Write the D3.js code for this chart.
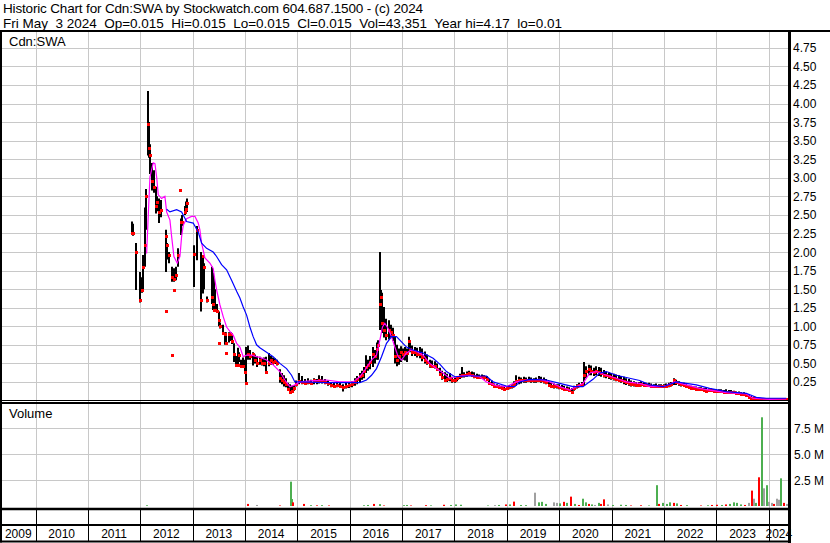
<!DOCTYPE html>
<html><head><meta charset="utf-8">
<script src="https://cdn.jsdelivr.net/npm/d3@7"></script>
<style>
body{margin:0;background:#fff}
svg{display:block}
text{font-family:"Liberation Sans",Arial,sans-serif;fill:#000}
</style>
</head><body>
<svg id="chart" width="830" height="543"></svg>
<script>
// ---------- text ----------
const titleLine1 = "Historic Chart for Cdn:SWA by Stockwatch.com 604.687.1500 - (c) 2024";
const titleLine2 = "Fri May  3 2024  Op=0.015  Hi=0.015  Lo=0.015  Cl=0.015  Vol=43,351  Year hi=4.17  lo=0.01";
const symbolLabel = "Cdn:SWA";
const volumeLabel = "Volume";

// ---------- axes ----------
const years = [2009,2010,2011,2012,2013,2014,2015,2016,2017,2018,2019,2020,2021,2022,2023,2024];
const priceTicks = [0.25,0.5,0.75,1,1.25,1.5,1.75,2,2.25,2.5,2.75,3,3.25,3.5,3.75,4,4.25,4.5,4.75];
const volTicks = [2.5e6,5e6,7.5e6];
const volTickLabels = ["2.5 M","5.0 M","7.5 M"];

// ---------- price bars (time in decimal years) ----------
const priceT = [2011.832,2011.851,2011.899,2011.975,2012.013,2012.042,2012.071,2012.099,2012.137,2012.156,2012.176,2012.214,2012.242,2012.281,2012.309,2012.338,2012.376,2012.471,2012.480,2012.500,2012.538,2012.590,2012.595,2012.618,2012.634,2012.672,2012.700,2012.739,2012.758,2012.786,2012.834,2012.863,2012.882,
2013.006,2013.072,2013.149,2013.177,2013.206,2013.254,2013.359,2013.378,2013.397,2013.416,2013.445,2013.477,2013.492,2013.511,2013.559,2013.597,2013.616,2013.626,2013.674,2013.712,2013.740,2013.779,2013.807,2013.845,2013.874,2013.912,2013.950,2013.989,
2014.008,2014.046,2014.084,2014.132,2014.170,2014.218,2014.265,2014.303,2014.342,2014.389,2014.437,2014.485,2014.523,2014.561,2014.599,2014.647,2014.685,2014.723,2014.761,2014.800,2014.838,2014.876,2014.914,2014.962,
2015.019,2015.067,2015.124,2015.181,2015.239,2015.296,2015.353,2015.401,2015.448,2015.506,2015.563,2015.620,2015.677,2015.735,2015.792,2015.849,2015.906,2015.964,
2016.021,2016.078,2016.126,2016.174,2016.221,2016.260,2016.298,2016.336,2016.374,2016.422,2016.460,2016.498,2016.527,2016.555,2016.584,2016.603,2016.641,2016.679,2016.727,2016.765,2016.803,2016.842,2016.880,2016.918,2016.956,2016.994,
2017.032,2017.070,2017.109,2017.137,2017.176,2017.223,2017.271,2017.319,2017.366,2017.414,2017.462,2017.510,2017.557,2017.605,2017.653,2017.700,2017.748,2017.796,2017.844,2017.891,2017.939,2017.987,
2018.034,2018.082,2018.120,2018.168,2018.216,2018.263,2018.311,2018.359,2018.406,2018.454,2018.502,2018.550,2018.597,2018.645,2018.693,2018.740,2018.788,2018.836,2018.884,2018.931,2018.979,
2019.027,2019.074,2019.122,2019.160,2019.208,2019.256,2019.303,2019.351,2019.399,2019.447,2019.494,2019.542,2019.590,2019.637,2019.685,2019.733,2019.781,2019.828,2019.876,2019.933,2019.981,
2020.028,2020.076,2020.124,2020.172,2020.219,2020.267,2020.315,2020.363,2020.410,2020.458,2020.496,2020.544,2020.592,2020.639,2020.687,2020.735,2020.782,2020.830,2020.878,2020.926,2020.973,
2021.021,2021.069,2021.116,2021.164,2021.212,2021.260,2021.307,2021.355,2021.403,2021.450,2021.498,2021.546,2021.593,2021.641,2021.689,2021.737,2021.784,2021.832,2021.880,2021.928,2021.975,
2022.023,2022.070,2022.118,2022.166,2022.214,2022.261,2022.309,2022.357,2022.405,2022.452,2022.500,2022.548,2022.595,2022.643,2022.691,2022.738,2022.786,2022.834,2022.882,2022.929,2022.977,
2023.025,2023.072,2023.120,2023.168,2023.216,2023.263,2023.311,2023.359,2023.406,2023.454,2023.502,2023.549,2023.597,2023.645,2023.693,2023.750,2023.807,2023.864,2023.922,2023.979,
2024.036,2024.093,2024.151,2024.208,2024.265,2024.322];
const priceHi = [2.41,2.38,2.12,1.73,1.66,1.96,2.60,2.85,4.17,3.75,3.45,3.20,3.10,2.88,2.75,2.72,2.70,2.30,1.21,2.12,2.00,0.61,1.80,1.49,1.78,1.80,2.05,2.84,2.45,2.50,2.62,2.68,2.72,
2.09,2.35,2.00,1.96,1.85,1.40,1.80,1.72,1.65,1.50,1.30,0.77,1.20,1.05,1.02,0.92,0.64,0.92,0.92,0.92,0.91,0.77,0.60,0.71,0.65,0.55,0.58,0.55,
0.72,0.74,0.68,0.65,0.62,0.60,0.59,0.57,0.58,0.59,0.64,0.60,0.58,0.57,0.55,0.42,0.37,0.34,0.30,0.24,0.22,0.20,0.21,0.27,
0.37,0.33,0.29,0.30,0.28,0.30,0.29,0.34,0.33,0.29,0.27,0.25,0.24,0.25,0.24,0.22,0.24,0.25,
0.26,0.30,0.33,0.37,0.40,0.45,0.61,0.55,0.60,0.72,0.68,0.78,0.81,2.00,1.49,1.45,1.26,1.10,1.08,1.02,0.98,0.86,0.75,0.70,0.73,0.70,
0.72,0.70,0.86,0.80,0.74,0.72,0.71,0.72,0.70,0.66,0.62,0.55,0.54,0.53,0.50,0.44,0.40,0.38,0.36,0.37,0.32,0.31,
0.33,0.36,0.45,0.38,0.39,0.40,0.39,0.38,0.36,0.35,0.35,0.34,0.33,0.29,0.27,0.23,0.22,0.21,0.20,0.20,0.19,
0.21,0.22,0.26,0.34,0.32,0.31,0.32,0.31,0.32,0.31,0.30,0.31,0.33,0.32,0.31,0.29,0.26,0.24,0.23,0.22,0.22,
0.21,0.20,0.19,0.18,0.17,0.20,0.22,0.24,0.25,0.52,0.46,0.48,0.47,0.44,0.46,0.45,0.44,0.41,0.39,0.38,0.37,
0.36,0.35,0.34,0.33,0.32,0.30,0.29,0.27,0.26,0.25,0.25,0.26,0.25,0.24,0.24,0.23,0.22,0.23,0.22,0.22,0.22,
0.23,0.24,0.25,0.30,0.28,0.26,0.25,0.24,0.23,0.21,0.20,0.19,0.19,0.18,0.18,0.17,0.17,0.16,0.16,0.15,0.15,
0.15,0.15,0.14,0.15,0.14,0.14,0.13,0.12,0.12,0.11,0.11,0.10,0.08,0.06,0.05,0.035,0.035,0.03,0.03,0.025,
0.025,0.025,0.025,0.02,0.02,0.015];
const priceLo = [2.24,2.22,1.49,1.32,1.45,1.49,1.80,2.30,3.30,3.27,3.05,2.83,2.80,2.52,2.55,2.39,2.47,1.73,1.21,1.90,1.85,0.61,1.60,1.49,1.60,1.62,1.80,2.84,2.23,2.35,2.50,2.52,2.54,
1.53,1.89,1.20,1.44,1.50,1.32,1.30,1.22,1.20,1.20,1.18,0.77,1.00,0.97,0.90,0.75,0.64,0.76,0.78,0.80,0.76,0.52,0.46,0.45,0.52,0.44,0.45,0.38,
0.21,0.55,0.55,0.47,0.50,0.45,0.48,0.47,0.46,0.37,0.46,0.48,0.48,0.49,0.47,0.24,0.22,0.19,0.18,0.14,0.10,0.11,0.13,0.19,
0.22,0.22,0.21,0.22,0.21,0.22,0.22,0.23,0.23,0.22,0.20,0.18,0.17,0.18,0.17,0.12,0.16,0.17,
0.18,0.20,0.22,0.25,0.28,0.30,0.37,0.40,0.42,0.45,0.50,0.55,0.55,0.95,0.95,0.91,0.85,0.81,0.82,0.85,0.80,0.50,0.46,0.48,0.52,0.55,
0.54,0.52,0.66,0.65,0.60,0.60,0.58,0.57,0.53,0.50,0.48,0.44,0.44,0.43,0.40,0.33,0.28,0.25,0.25,0.26,0.24,0.24,
0.26,0.29,0.31,0.31,0.32,0.33,0.32,0.30,0.29,0.29,0.29,0.28,0.27,0.22,0.20,0.18,0.17,0.16,0.15,0.14,0.14,
0.15,0.16,0.18,0.20,0.22,0.23,0.24,0.24,0.25,0.24,0.24,0.24,0.25,0.24,0.23,0.22,0.19,0.17,0.16,0.16,0.15,
0.15,0.14,0.13,0.12,0.10,0.13,0.16,0.18,0.19,0.21,0.30,0.34,0.34,0.33,0.34,0.33,0.32,0.31,0.30,0.29,0.28,
0.27,0.26,0.25,0.24,0.22,0.21,0.20,0.19,0.19,0.19,0.19,0.19,0.19,0.19,0.19,0.18,0.18,0.18,0.17,0.17,0.17,
0.18,0.18,0.19,0.21,0.21,0.20,0.19,0.19,0.18,0.16,0.15,0.15,0.14,0.14,0.13,0.12,0.11,0.12,0.12,0.11,0.11,
0.11,0.11,0.11,0.11,0.10,0.10,0.09,0.09,0.08,0.08,0.07,0.07,0.04,0.02,0.02,0.02,0.015,0.015,0.015,0.015,
0.015,0.01,0.015,0.015,0.01,0.015];
const priceCl = [2.26,2.25,2.00,1.35,1.49,1.80,2.10,2.75,3.72,3.40,3.31,2.95,2.87,2.62,2.68,2.54,2.56,2.21,1.21,2.09,1.96,0.61,1.66,1.49,1.63,1.69,1.96,2.84,2.41,2.41,2.54,2.58,2.66,
1.98,2.30,1.35,1.94,1.80,1.35,1.40,1.30,1.22,1.22,1.21,0.77,1.08,1.00,0.91,0.90,0.64,0.78,0.90,0.90,0.80,0.63,0.48,0.48,0.61,0.46,0.47,0.39,
0.24,0.62,0.60,0.62,0.55,0.50,0.55,0.50,0.50,0.39,0.50,0.55,0.52,0.53,0.50,0.30,0.27,0.25,0.22,0.16,0.12,0.13,0.17,0.22,
0.26,0.25,0.24,0.25,0.24,0.27,0.26,0.27,0.26,0.25,0.23,0.21,0.20,0.21,0.19,0.18,0.20,0.21,
0.22,0.25,0.29,0.33,0.35,0.40,0.45,0.48,0.52,0.62,0.60,0.70,0.75,1.30,1.40,1.05,0.95,0.88,0.95,0.92,0.88,0.60,0.55,0.60,0.65,0.62,
0.66,0.64,0.80,0.70,0.66,0.65,0.62,0.62,0.58,0.55,0.52,0.48,0.47,0.46,0.42,0.36,0.32,0.28,0.29,0.30,0.27,0.27,
0.30,0.33,0.35,0.34,0.36,0.37,0.35,0.33,0.32,0.32,0.31,0.31,0.29,0.24,0.22,0.20,0.19,0.18,0.17,0.16,0.17,
0.18,0.19,0.22,0.26,0.27,0.27,0.28,0.28,0.28,0.27,0.27,0.28,0.28,0.27,0.26,0.25,0.21,0.20,0.19,0.19,0.18,
0.17,0.16,0.15,0.14,0.12,0.17,0.19,0.21,0.22,0.35,0.40,0.42,0.40,0.38,0.40,0.38,0.37,0.35,0.34,0.33,0.32,
0.30,0.29,0.28,0.27,0.26,0.25,0.23,0.22,0.22,0.21,0.21,0.22,0.21,0.21,0.21,0.20,0.20,0.20,0.19,0.19,0.19,
0.20,0.21,0.22,0.27,0.25,0.23,0.22,0.21,0.20,0.18,0.17,0.17,0.16,0.16,0.15,0.14,0.13,0.14,0.14,0.13,0.13,
0.13,0.13,0.12,0.12,0.12,0.12,0.11,0.10,0.10,0.09,0.09,0.08,0.05,0.03,0.03,0.025,0.025,0.02,0.02,0.02,
0.02,0.015,0.02,0.015,0.015,0.015];

// ---------- moving averages ----------
const maFastT = [2012.122,2012.185,2012.248,2012.281,2012.313,2012.344,2012.408,2012.471,2012.504,2012.567,2012.599,2012.643,2012.706,2012.758,2012.790,2012.821,2012.885,2012.981,2013.044,2013.107,2013.139,2013.172,2013.235,2013.330,2013.393,2013.426,2013.458,2013.521,2013.584,2013.649,2013.712,2013.775,2013.840,2013.903,2013.966,2014.031,2014.126,2014.221,2014.284,2014.412,2014.538,2014.666,2014.761,2014.857,2014.952,2015.048,2015.302,2015.557,2015.811,2016.065,2016.193,2016.288,2016.416,2016.511,2016.574,2016.626,2016.670,2016.733,2016.798,2016.861,2016.924,2016.989,2017.084,2017.179,2017.275,2017.401,2017.529,2017.656,2017.782,2017.910,2018.101,2018.292,2018.483,2018.611,2018.802,2018.992,2019.183,2019.374,2019.628,2019.819,2020.010,2020.200,2020.328,2020.454,2020.582,2020.710,2020.901,2021.092,2021.282,2021.408,2021.536,2021.727,2021.981,2022.204,2022.427,2022.681,2022.872,2023.191,2023.573,2023.698,2024.017,2024.336];
const maFast = [1.98,3.01,3.20,3.19,3.01,2.77,2.72,2.75,2.54,2.43,2.21,1.94,1.85,1.94,2.21,2.36,2.45,2.48,2.48,2.39,2.30,2.12,1.92,1.85,1.78,1.62,1.49,1.29,1.13,0.99,0.93,0.88,0.77,0.72,0.59,0.61,0.61,0.59,0.58,0.545,0.48,0.39,0.276,0.186,0.21,0.25,0.267,0.276,0.25,0.25,0.32,0.41,0.545,0.61,0.81,0.99,1.04,0.97,0.86,0.72,0.59,0.545,0.64,0.68,0.66,0.61,0.50,0.43,0.37,0.30,0.33,0.34,0.32,0.25,0.20,0.186,0.25,0.276,0.285,0.25,0.186,0.14,0.186,0.23,0.37,0.39,0.34,0.30,0.25,0.24,0.23,0.186,0.186,0.25,0.21,0.164,0.14,0.105,0.088,0.03,0.016,0.02];
const maSlowT = [2012.504,2012.567,2012.695,2012.790,2012.885,2013.011,2013.107,2013.172,2013.267,2013.393,2013.458,2013.553,2013.649,2013.744,2013.840,2013.903,2013.966,2014.031,2014.094,2014.156,2014.221,2014.284,2014.412,2014.538,2014.666,2014.794,2014.889,2014.952,2015.048,2015.557,2016.193,2016.321,2016.416,2016.511,2016.607,2016.702,2016.798,2016.893,2016.989,2017.084,2017.210,2017.401,2017.592,2017.719,2017.847,2018.006,2018.229,2018.611,2018.737,2018.992,2019.151,2019.246,2019.437,2019.756,2020.010,2020.263,2020.454,2020.645,2020.773,2020.901,2021.092,2021.345,2021.536,2021.727,2021.981,2022.237,2022.618,2022.872,2023.191,2023.573,2023.763,2023.954,2024.336];
const maSlow = [2.575,2.54,2.57,2.54,2.41,2.39,2.27,2.12,2.05,2.00,1.94,1.83,1.76,1.62,1.47,1.38,1.26,1.15,0.99,0.86,0.75,0.71,0.65,0.59,0.50,0.43,0.34,0.25,0.25,0.24,0.24,0.276,0.34,0.43,0.59,0.77,0.86,0.86,0.79,0.72,0.68,0.64,0.57,0.49,0.39,0.32,0.33,0.33,0.25,0.195,0.186,0.25,0.285,0.276,0.23,0.186,0.186,0.285,0.37,0.39,0.34,0.30,0.27,0.21,0.186,0.25,0.21,0.164,0.12,0.097,0.043,0.03,0.03];

// ---------- volume ----------
const volT = [2012.101,2014.036,2014.202,2014.656,2014.859,2014.880,2014.899,2015.101,2015.239,2015.353,2015.448,2015.582,2016.250,2016.326,2016.441,2016.555,2016.632,2017.013,2017.071,2017.147,2017.433,2017.529,2017.777,2017.910,2018.006,2018.101,2018.616,2018.750,2018.826,2018.971,2019.036,2019.122,2019.246,2019.342,2019.527,2019.590,2019.647,2019.723,2019.876,2019.933,2019.990,2020.067,2020.124,2020.214,2020.277,2020.353,2020.435,2020.487,2020.544,2020.601,2020.658,2020.735,2020.773,2020.840,2020.906,2021.002,2021.155,2021.250,2021.345,2021.536,2021.689,2021.849,2021.889,2021.956,2022.032,2022.090,2022.166,2022.223,2022.300,2022.414,2022.681,2022.815,2022.891,2022.987,2023.082,2023.158,2023.235,2023.311,2023.368,2023.445,2023.521,2023.597,2023.668,2023.702,2023.731,2023.788,2023.851,2023.891,2023.941,2023.989,2024.036,2024.084,2024.141,2024.179,2024.223,2024.275,2024.323];
const volV = [0.07,0.2,0.1,0.05,2.34,0.67,0.35,0.2,0.08,0.06,0.08,0.05,0.07,0.1,0.2,0.18,0.05,0.08,0.1,0.05,0.08,0.06,0.12,0.1,0.15,0.12,0.05,0.08,0.1,0.15,0.15,0.42,0.1,0.08,1.28,0.35,0.4,0.2,0.35,0.3,0.25,0.4,0.3,0.9,0.2,0.1,0.7,0.35,0.2,0.15,0.1,0.3,0.2,0.64,0.15,0.1,0.12,0.1,0.05,0.07,0.05,2.0,0.2,0.3,0.2,0.35,0.3,0.25,0.1,0.08,0.05,0.07,0.1,0.12,0.1,0.15,0.2,0.35,0.3,0.15,0.1,0.3,1.48,0.7,0.3,2.76,8.53,1.7,2.0,0.4,0.3,0.2,0.7,0.6,2.66,0.3,0.2].map(v => v * 1e6);
const volDir = ["up","down","flat","down","up","up","down","down","up","down","up","down","up","up","down","up","down","up","up","down","down","up","down","up","up","up","up","flat","up","down","up","down","up","up","flat","up","up","up","flat","flat","up","down","up","down","up","down","up","up","down","up","flat","up","down","down","flat","up","up","up","down","down","up","up","down","up","up","up","down","up","down","up","down","up","down","down","up","down","up","up","up","up","down","flat","down","flat","up","down","up","flat","up","flat","flat","down","flat","flat","up","down","flat"];

// ---------- drawing ----------
const svg = d3.select("#chart");
const W = 830, H = 543;
const plotL = 1, plotR = 789;
const priceTop = 31, priceBot = 400.5, volTop = 403, volBot = 509, labTop = 525, labBot = 541.5;

const x = d3.scaleLinear().domain([2010, 2024]).range([35.5, 768.7]);
const yP = d3.scaleLinear().domain([0, 5]).range([400.5, 29.3]);
const yV = d3.scaleLinear().domain([0, 10e6]).range([506, 402]);
const volColor = d3.scaleOrdinal().domain(["up","down","flat"]).range(["#4caf50","#ff0000","#a0a0a0"]);
const grid = "#c8c8c8";

svg.append("rect").attr("width", W).attr("height", H).attr("fill", "#fff");

const defs = svg.append("defs");
defs.append("clipPath").attr("id","cp").append("rect").attr("x",2).attr("y",priceTop+1).attr("width",plotR-3).attr("height",priceBot-priceTop-1);
defs.append("clipPath").attr("id","cv").append("rect").attr("x",2).attr("y",volTop+1).attr("width",plotR-3).attr("height",volBot-volTop-2);

// header
svg.append("text").attr("x",3).attr("y",12.5).attr("font-size","13.5px")
  .attr("textLength",420).attr("lengthAdjust","spacing").text(titleLine1);
svg.append("text").attr("x",3).attr("y",27.5).attr("font-size","13.5px")
  .attr("textLength",559).attr("lengthAdjust","spacing")
  .attr("xml:space","preserve").style("white-space","pre").text(titleLine2);

// horizontal grid price
const gP = svg.append("g");
gP.selectAll("line.h").data(priceTicks).join("line")
  .attr("x1",plotL).attr("x2",plotR).attr("y1",d=>Math.round(yP(d))+0.5).attr("y2",d=>Math.round(yP(d))+0.5)
  .attr("stroke",grid).attr("stroke-width",1);
// horizontal grid volume
gP.selectAll("line.v").data(volTicks).join("line")
  .attr("x1",plotL).attr("x2",plotR).attr("y1",d=>Math.round(yV(d))+0.5).attr("y2",d=>Math.round(yV(d))+0.5)
  .attr("stroke",grid).attr("stroke-width",1);
// vertical year grid
const gridYears = years.filter(y => x(y) > plotL && x(y) < plotR);
svg.append("g").selectAll("line").data(gridYears).join("line")
  .attr("x1",d=>Math.round(x(d))+0.5).attr("x2",d=>Math.round(x(d))+0.5)
  .attr("y1",priceTop).attr("y2",volBot).attr("stroke",grid);
svg.append("g").selectAll("line").data(gridYears).join("line")
  .attr("x1",d=>Math.round(x(d))+0.5).attr("x2",d=>Math.round(x(d))+0.5)
  .attr("y1",volBot).attr("y2",labBot).attr("stroke","#000");

// price bars
const priceData = priceT.map((t,i)=>({t, hi:priceHi[i], lo:priceLo[i], cl:priceCl[i]}));
const gBars = svg.append("g").attr("clip-path","url(#cp)");
gBars.selectAll("line").data(priceData.filter(d=>d.hi!==d.lo)).join("line")
  .attr("x1",d=>Math.round(x(d.t))+1).attr("x2",d=>Math.round(x(d.t))+1)
  .attr("y1",d=>yP(d.hi)).attr("y2",d=>yP(d.lo)).attr("stroke","#000").attr("stroke-width",2);
gBars.selectAll("rect").data(priceData).join("rect")
  .attr("x",d=>Math.round(x(d.t))).attr("y",d=>Math.round(yP(d.cl))-1).attr("width",3).attr("height",3).attr("fill","#ff0000");

// moving averages
const lineFast = d3.line().x((d,i)=>x(maFastT[i])).y(d=>yP(d));
const lineSlow = d3.line().x((d,i)=>x(maSlowT[i])).y(d=>yP(d));
gBars.append("path").attr("d",lineFast(maFast)).attr("fill","none").attr("stroke","#ff00ff").attr("stroke-width",1.2);
gBars.append("path").attr("d",lineSlow(maSlow)).attr("fill","none").attr("stroke","#0000ff").attr("stroke-width",1.2);

// volume bars
const volData = volT.map((t,i)=>({t, v:volV[i], dir:volDir[i]}));
svg.append("g").attr("clip-path","url(#cv)").selectAll("rect").data(volData).join("rect")
  .attr("x",d=>Math.round(x(d.t))).attr("y",d=>yV(d.v)).attr("width",2)
  .attr("height",d=>yV(0)-yV(d.v)).attr("fill",d=>volColor(d.dir));

// frame lines
const frame = svg.append("g").attr("stroke","#000");
frame.append("line").attr("x1",0).attr("x2",W).attr("y1",priceTop).attr("y2",priceTop).attr("stroke-width",2);
frame.append("line").attr("x1",1).attr("x2",1).attr("y1",priceTop).attr("y2",labBot+1).attr("stroke-width",2);
frame.append("line").attr("x1",plotR+0.5).attr("x2",plotR+0.5).attr("y1",priceTop).attr("y2",H).attr("stroke-width",3);
frame.append("line").attr("x1",0).attr("x2",plotR).attr("y1",priceBot).attr("y2",priceBot).attr("stroke-width",1);
frame.append("line").attr("x1",0).attr("x2",plotR).attr("y1",volTop).attr("y2",volTop).attr("stroke-width",2);
frame.append("line").attr("x1",0).attr("x2",plotR).attr("y1",volBot).attr("y2",volBot).attr("stroke-width",2.5);
frame.append("line").attr("x1",0).attr("x2",plotR).attr("y1",labTop).attr("y2",labTop).attr("stroke-width",2);
frame.append("line").attr("x1",0).attr("x2",plotR).attr("y1",labBot).attr("y2",labBot).attr("stroke-width",2);

// panel labels
svg.append("text").attr("x",9).attr("y",46).attr("font-size","13px").text(symbolLabel);
svg.append("text").attr("x",9).attr("y",418).attr("font-size","13px").text(volumeLabel);

// right axis labels
svg.append("g").selectAll("text").data(priceTicks).join("text")
  .attr("x",793).attr("y",d=>yP(d)+4.5).attr("font-size","12px").text(d=>d3.format(".2f")(d));
svg.append("g").selectAll("text").data(volTicks).join("text")
  .attr("x",794).attr("y",d=>yV(d)+4.5).attr("font-size","12px").text((d,i)=>volTickLabels[i]);

// year labels
svg.append("g").selectAll("text").data(years).join("text")
  .attr("x",d=>(Math.max(plotL, x(d)) + Math.min(plotR, x(d+1)))/2)
  .attr("y",538).attr("text-anchor","middle").attr("font-size","12px").text(d=>d);
</script>
</body></html>
